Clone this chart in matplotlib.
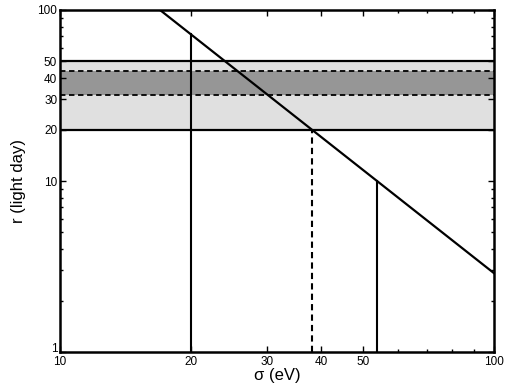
import matplotlib
matplotlib.use("Agg")
import matplotlib.pyplot as plt
import matplotlib.transforms as mtransforms
from matplotlib.ticker import FixedLocator, NullFormatter, FixedFormatter

plt.rcParams['font.family'] = ['Liberation Sans', 'DejaVu Sans']

# data
line_sigma = [17.0, 100.0]
line_r = [100.0, 2.89]
band_outer = [20, 50]
band_inner = [32, 44]
vert_sigma = [20.0, 38.0, 53.8]
vert_top = [72.25, 20.0, 10.0]
vert_style = ['-', '--', '-']
xticks = [10, 20, 30, 40, 50, 100]
xminor = [60, 70, 80, 90]
yticks = [1, 10, 20, 30, 40, 50, 100]
yminor = [2, 3, 4, 5, 6, 7, 8, 9, 60, 70, 80, 90]

fig = plt.figure(figsize=(5.09, 3.87), dpi=100)
ax = fig.add_axes([60/509, 35/387, 434/509, 342/387])
ax.set_xscale('log')
ax.set_yscale('log')
ax.set_xlim(10, 100)
ax.set_ylim(1, 100)

ax.axhspan(band_outer[0], band_outer[1], color='#e0e0e0', lw=0, zorder=0)
ax.axhspan(band_inner[0], band_inner[1], color='#969696', lw=0, zorder=1)
for y in band_outer:
    ax.axhline(y, color='black', lw=1.6, zorder=2)
for y in band_inner:
    ax.axhline(y, color='black', lw=1.3, ls=(0, (3, 2)), zorder=2)

for s, t, ls in zip(vert_sigma, vert_top, vert_style):
    ax.plot([s, s], [1, t], color='black', lw=1.5, ls=(0, (3, 2)) if ls == '--' else '-', zorder=3)

ax.plot(line_sigma, line_r, color='black', lw=1.6, zorder=4)

ax.xaxis.set_major_locator(FixedLocator(xticks))
ax.xaxis.set_major_formatter(FixedFormatter([str(v) for v in xticks]))
ax.xaxis.set_minor_locator(FixedLocator(xminor))
ax.xaxis.set_minor_formatter(NullFormatter())
ax.yaxis.set_major_locator(FixedLocator(yticks))
ax.yaxis.set_major_formatter(FixedFormatter([str(v) for v in yticks]))
ax.yaxis.set_minor_locator(FixedLocator(yminor))
ax.yaxis.set_minor_formatter(NullFormatter())

ax.tick_params(which='both', direction='in', top=True, right=True, labelsize=8.5, width=1.0)
ax.tick_params(which='major', length=4)
ax.tick_params(axis='x', which='major', pad=3)
ax.tick_params(axis='y', which='major', pad=2)
ax.tick_params(which='minor', length=2.5)
for sp in ax.spines.values():
    sp.set_linewidth(1.8)

ax.set_xlabel('σ (eV)', fontsize=12, labelpad=0)
ax.set_ylabel('r (light day)', fontsize=12, labelpad=8)

fig.canvas.draw()
# nudge the "1" label up to avoid clashing with "10"
lab = ax.yaxis.get_majorticklabels()[0]
lab.set_transform(lab.get_transform() + mtransforms.ScaledTranslation(0, 3/72, fig.dpi_scale_trans))

fig.savefig('out.png', dpi=100)
